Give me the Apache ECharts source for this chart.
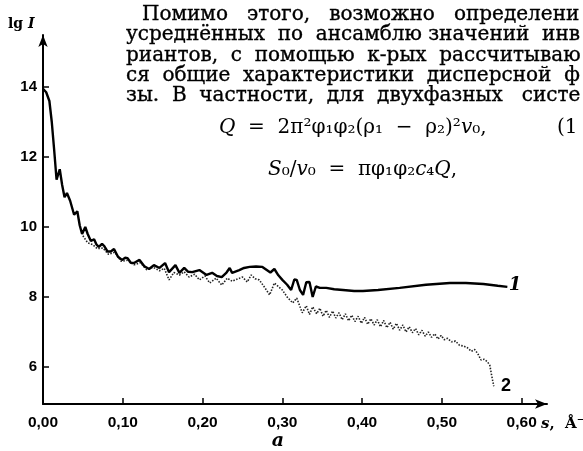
<!DOCTYPE html>
<html>
<head>
<meta charset="utf-8">
<script src="https://cdn.jsdelivr.net/npm/echarts@6/dist/echarts.min.js"></script>
<style>
html,body{margin:0;padding:0;background:#fff;}
#chart{width:583px;height:451px;}
</style>
</head>
<body>
<div id="chart"></div>
<script>
// ---- data ----
const xTicks = [0, 0.1, 0.2, 0.3, 0.4, 0.5, 0.6];
const xTickLabels = ['0,00', '0,10', '0,20', '0,30', '0,40', '0,50', '0,60'];
const yTicks = [6, 8, 10, 12, 14];
const yTickLabels = ['6', '8', '10', '12', '14'];

// curve 1 (solid)
const s1 = [0.000,0.004,0.008,0.011,0.014,0.017,0.021,0.024,0.027,0.030,0.034,0.039,0.043,0.046,0.049,0.053,0.056,0.060,0.064,0.067,0.070,0.074,0.077,0.081,0.085,0.089,0.094,0.099,0.103,0.106,0.110,0.114,0.121,0.127,0.133,0.139,0.146,0.153,0.158,0.166,0.171,0.177,0.182,0.187,0.196,0.205,0.212,0.218,0.224,0.230,0.234,0.237,0.246,0.252,0.259,0.267,0.275,0.280,0.285,0.290,0.295,0.300,0.306,0.311,0.315,0.318,0.322,0.326,0.330,0.334,0.338,0.342,0.347,0.355,0.365,0.376,0.390,0.401,0.420,0.447,0.480,0.510,0.530,0.552,0.570,0.582];
const v1 = [13.95,13.85,13.6,13.0,12.2,11.35,11.65,11.2,10.85,10.97,10.75,10.35,10.45,10.05,9.8,10.0,9.8,9.6,9.65,9.5,9.43,9.52,9.45,9.3,9.3,9.37,9.15,9.06,9.12,9.11,8.98,8.97,9.06,8.88,8.8,8.91,8.83,8.97,8.71,8.91,8.69,8.83,8.72,8.71,8.77,8.63,8.69,8.6,8.57,8.7,8.83,8.69,8.77,8.83,8.86,8.87,8.86,8.78,8.7,8.8,8.62,8.49,8.35,8.2,8.5,8.49,8.2,8.06,8.42,8.43,8.0,8.3,8.26,8.26,8.22,8.2,8.17,8.17,8.2,8.26,8.35,8.4,8.4,8.37,8.32,8.29];

// curve 2 (dotted)
const s2 = [0.050,0.056,0.062,0.068,0.075,0.082,0.090,0.098,0.106,0.114,0.122,0.130,0.138,0.146,0.152,0.158,0.164,0.171,0.177,0.183,0.190,0.196,0.203,0.209,0.217,0.224,0.231,0.237,0.242,0.250,0.256,0.261,0.266,0.271,0.277,0.284,0.290,0.295,0.300,0.306,0.313,0.318,0.325,0.330,0.334,0.338,0.343,0.347,0.351,0.355,0.359,0.363,0.367,0.371,0.375,0.379,0.383,0.387,0.391,0.395,0.399,0.403,0.407,0.411,0.415,0.419,0.423,0.427,0.431,0.435,0.439,0.443,0.447,0.451,0.455,0.459,0.463,0.467,0.471,0.475,0.479,0.483,0.487,0.491,0.495,0.499,0.503,0.507,0.512,0.517,0.522,0.527,0.532,0.537,0.541,0.545,0.549,0.553,0.557,0.560,0.562,0.565];
const v2 = [9.75,9.55,9.5,9.38,9.4,9.22,9.28,9.02,9.05,8.92,8.98,8.78,8.85,8.75,8.82,8.49,8.7,8.63,8.72,8.57,8.65,8.49,8.6,8.4,8.54,8.34,8.54,8.45,8.5,8.57,8.43,8.63,8.52,8.49,8.3,8.06,8.4,8.3,8.2,8.0,7.83,7.97,7.55,7.75,7.5,7.72,7.52,7.68,7.45,7.62,7.42,7.6,7.4,7.55,7.35,7.52,7.32,7.48,7.3,7.45,7.25,7.42,7.22,7.38,7.2,7.35,7.15,7.33,7.12,7.28,7.08,7.25,7.05,7.2,7.0,7.15,6.98,7.1,6.92,7.05,6.88,7.0,6.85,6.95,6.8,6.9,6.78,6.82,6.72,6.74,6.62,6.6,6.55,6.45,6.5,6.38,6.2,6.22,6.15,6.05,5.8,5.45];

const curve1 = s1.map((s, i) => [s, v1[i]]);
const curve2 = s2.map((s, i) => [s, v2[i]]);

const serif = '"DejaVu Serif", "Liberation Serif", serif';
const sans = '"Liberation Sans", Arial, sans-serif';

const chart = echarts.init(document.getElementById('chart'), null, {renderer: 'canvas'});

const textLines = [
  {t: 'Помимо   этого,   возможно   определени', x: 142, y: 15},
  {t: 'усреднённых  по  ансамблю значений  инв', x: 126, y: 35},
  {t: 'риантов,  с  помощью  к-рых  рассчитываю', x: 126, y: 56},
  {t: 'ся  общие  характеристики  дисперсной  ф', x: 126, y: 76},
  {t: 'зы.  В  частности,  для  двухфазных   систе', x: 126, y: 96}
];

const graphics = textLines.map(l => ({
  type: 'text', x: l.x, y: l.y, silent: true,
  style: {text: l.t, fill: '#000', stroke: '#000', lineWidth: 0.35,
    font: '20px ' + serif, textVerticalAlign: 'middle'}
}));

graphics.push(
  {type: 'text', x: 219, y: 128, silent: true,
   style: {text: '{i|Q}  =  2π²φ₁φ₂(ρ₁  −  ρ₂)²{i|v}₀,', fill: '#000', font: '20px ' + serif,
     textVerticalAlign: 'middle',
     rich: {i: {fontStyle: 'italic', fontFamily: serif, fontSize: 20}}}},
  {type: 'text', x: 557, y: 128, silent: true,
   style: {text: '(1', fill: '#000', font: '20px ' + serif, textVerticalAlign: 'middle'}},
  {type: 'text', x: 268, y: 170, silent: true,
   style: {text: '{i|S}₀/{i|v}₀  =  πφ₁φ₂{i|c}₄{i|Q},', fill: '#000', font: '20px ' + serif,
     textVerticalAlign: 'middle',
     rich: {i: {fontStyle: 'italic', fontFamily: serif, fontSize: 20}}}},
  {type: 'text', x: 8, y: 24, silent: true,
   style: {text: 'lg {i|I}', fill: '#000', font: 'bold 14px ' + serif, textVerticalAlign: 'middle',
     rich: {i: {fontStyle: 'italic', fontWeight: 'bold', fontFamily: serif, fontSize: 14}}}},
  {type: 'text', x: 541, y: 424, silent: true,
   style: {text: '{i|s},  Å⁻¹', fill: '#000', font: 'bold 15px ' + serif, textVerticalAlign: 'middle',
     rich: {i: {fontStyle: 'italic', fontWeight: 'bold', fontFamily: serif, fontSize: 15}}}},
  {type: 'text', x: 278, y: 441, silent: true,
   style: {text: 'а', fill: '#000', font: 'italic bold 19px ' + serif, textAlign: 'center', textVerticalAlign: 'middle'}},
  {type: 'text', x: 515, y: 285, silent: true,
   style: {text: '1', fill: '#000', font: 'italic bold 18px ' + serif, textAlign: 'center', textVerticalAlign: 'middle'}},
  {type: 'text', x: 506, y: 386, silent: true,
   style: {text: '2', fill: '#000', font: 'bold 18px ' + sans, textAlign: 'center', textVerticalAlign: 'middle'}}
);

chart.setOption({
  animation: false,
  backgroundColor: '#fff',
  grid: {left: 43, right: 36, top: 35, bottom: 47, containLabel: false},
  xAxis: {
    type: 'value', min: 0, max: 0.6317,
    axisLine: {show: true, onZero: false, symbol: ['none', 'arrow'], symbolSize: [7, 12],
      lineStyle: {color: '#000', width: 2}},
    axisTick: {show: true, inside: true, length: 6, customValues: xTicks, lineStyle: {color: '#000', width: 1.5}},
    axisLabel: {show: true, customValues: xTicks, margin: 11, color: '#000',
      fontFamily: sans, fontWeight: 'bold', fontSize: 15.5,
      formatter: v => xTickLabels[xTicks.findIndex(t => Math.abs(t - v) < 1e-6)] || ''},
    splitLine: {show: false}
  },
  yAxis: {
    type: 'value', min: 4.943, max: 15.486,
    axisLine: {show: true, onZero: false, symbol: ['none', 'arrow'], symbolSize: [7, 12],
      lineStyle: {color: '#000', width: 2}},
    axisTick: {show: true, inside: true, length: 6, customValues: yTicks, lineStyle: {color: '#000', width: 1.5}},
    axisLabel: {show: true, customValues: yTicks, margin: 6, color: '#000',
      fontFamily: sans, fontWeight: 'bold', fontSize: 15,
      formatter: v => yTickLabels[yTicks.findIndex(t => Math.abs(t - v) < 1e-6)] || ''},
    splitLine: {show: false}
  },
  series: [
    {type: 'line', name: '2', data: curve2, showSymbol: false, smooth: false, z: 2,
     lineStyle: {color: '#222', width: 1.6, type: [1.5, 1.5]}},
    {type: 'line', name: '1', data: curve1, showSymbol: false, smooth: false, z: 3,
     lineStyle: {color: '#000', width: 2.4}}
  ],
  graphic: graphics
});
</script>
</body>
</html>
